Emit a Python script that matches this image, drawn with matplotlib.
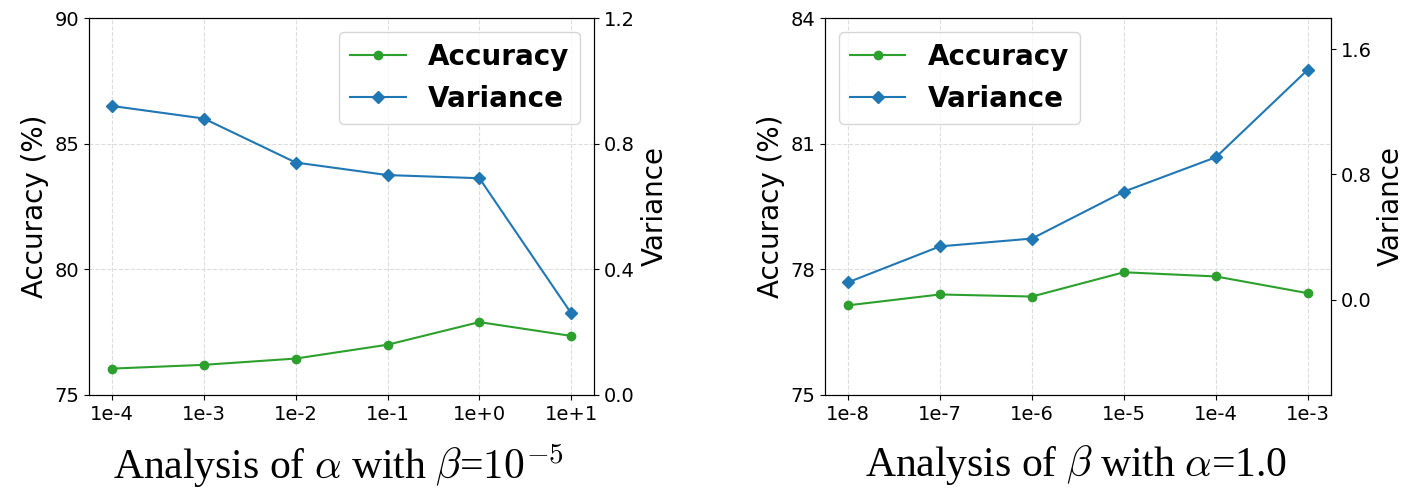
import numpy as np
import matplotlib
matplotlib.use("Agg")
import matplotlib.pyplot as plt

plt.rcParams['mathtext.fontset'] = 'cm'

# alpha sweep (beta fixed at 1e-5)
alpha_labels = ["1e-4", "1e-3", "1e-2", "1e-1", "1e+0", "1e+1"]
alpha_acc = [76.05, 76.2, 76.45, 77.0, 77.9, 77.35]
alpha_var = [0.92, 0.88, 0.74, 0.70, 0.69, 0.26]

# beta sweep (alpha fixed at 1.0)
beta_labels = ["1e-8", "1e-7", "1e-6", "1e-5", "1e-4", "1e-3"]
beta_acc = [77.14, 77.4, 77.35, 77.93, 77.83, 77.43]
beta_var = [0.11, 0.34, 0.39, 0.69, 0.91, 1.47]

acc_color = '#2ca02c'
var_color = '#1f77b4'

fig = plt.figure(figsize=(14.07, 4.88), dpi=100)
ax_l = fig.add_axes([0.0633, 0.1906, 0.359, 0.7725])
ax_r = fig.add_axes([0.5863, 0.1906, 0.3596, 0.7725])


def draw_panel(ax, labels, acc, var, acc_lim, acc_ticks, var_lim, var_ticks, loc):
    x = np.arange(len(labels))
    ax2 = ax.twinx()
    l1, = ax.plot(x, acc, color=acc_color, marker='o', markersize=6, linewidth=1.5, label='Accuracy')
    l2, = ax2.plot(x, var, color=var_color, marker='D', markersize=6.5, linewidth=1.5, label='Variance')
    ax.set_xticks(x)
    ax.set_xticklabels(labels, fontsize=14)
    ax.set_ylim(*acc_lim)
    ax.set_yticks(acc_ticks)
    ax.tick_params(axis='y', labelsize=14)
    ax2.set_ylim(*var_lim)
    ax2.set_yticks(var_ticks)
    ax2.set_yticklabels(["%.1f" % v for v in var_ticks])
    ax2.tick_params(axis='y', labelsize=14)
    ax.set_ylabel("Accuracy (%)", fontsize=20)
    ax2.set_ylabel("Variance", fontsize=20)
    ax.grid(True, linestyle='--', color='#dddddd', linewidth=0.8)
    ax2.legend(handles=[l1, l2], loc=loc, prop={'size': 20, 'weight': 'bold'})
    return ax2


draw_panel(ax_l, alpha_labels, alpha_acc, alpha_var, (75, 90), [75, 80, 85, 90],
           (0, 1.2), [0.0, 0.4, 0.8, 1.2], 'upper right')
draw_panel(ax_r, beta_labels, beta_acc, beta_var, (75, 84), [75, 78, 81, 84],
           (-0.61, 1.8), [0.0, 0.8, 1.6], 'upper left')

fig.text(0.2406, 0.047, r"Analysis of $\alpha$ with $\beta$=$10^{-5}$", ha='center', va='center',
         fontsize=30, family='Liberation Serif')
fig.text(0.765, 0.047, r"Analysis of $\beta$ with $\alpha$=1.0", ha='center', va='center',
         fontsize=30, family='Liberation Serif')

fig.savefig("out.png", dpi=100)
